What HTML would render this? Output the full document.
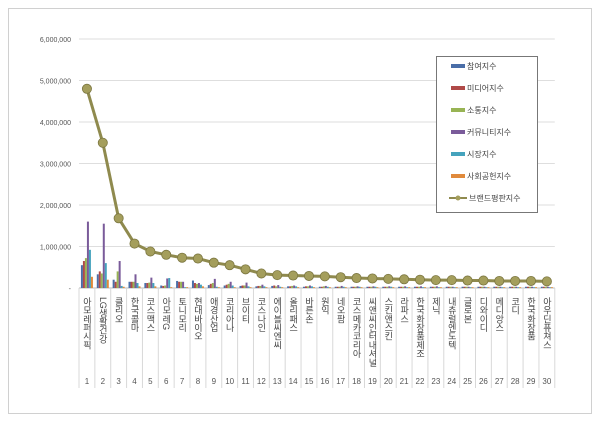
<!DOCTYPE html>
<html><head><meta charset="utf-8"><style>
body{margin:0;background:#fff;}
svg{display:block;font-family:"Liberation Sans","Noto Sans CJK KR",sans-serif;}
</style></head><body>
<svg id="chart" width="600" height="422" viewBox="0 0 600 422">
<rect x="8.5" y="8.5" width="583" height="405" fill="#fff" stroke="#d0d0d0"/>
<g id="grid"></g><g id="cats"></g><g id="bars"></g><g id="line"></g>
<g id="legend"></g>
</svg>
<script>
const categories=["아모레퍼시픽","LG생활건강","클리오","한국콜마","코스맥스","아모레G","토니모리","현대바이오","애경산업","코리아나","브이티","코스나인","에이블씨엔씨","올리패스","바른손","원익","네오팜","코스메카코리아","씨앤씨인터내셔널","스킨앤스킨","라파스","한국화장품제조","제닉","내츄럴엔도텍","글로본","디와이디","메디앙스","코디","한국화장품","아우딘퓨쳐스"];
const participation=[550000,330000,200000,150000,120000,60000,170000,180000,70000,60000,50000,40000,50000,40000,30000,30000,30000,30000,30000,30000,30000,30000,30000,30000,30000,30000,30000,30000,30000,30000];
const media=[650000,400000,150000,150000,120000,50000,150000,120000,100000,80000,60000,50000,60000,40000,40000,30000,30000,30000,30000,30000,30000,30000,30000,30000,30000,30000,30000,30000,30000,30000];
const communication=[720000,350000,400000,150000,130000,60000,150000,100000,120000,100000,60000,50000,40000,50000,40000,40000,30000,30000,30000,30000,30000,30000,30000,30000,30000,30000,30000,30000,30000,30000];
const community=[1600000,1550000,650000,330000,250000,230000,150000,120000,220000,150000,130000,80000,70000,60000,60000,50000,50000,40000,40000,40000,40000,40000,40000,30000,30000,30000,30000,30000,30000,30000];
const market=[920000,600000,50000,120000,120000,240000,20000,80000,30000,60000,40000,40000,30000,40000,40000,30000,30000,30000,30000,30000,20000,20000,20000,20000,20000,20000,20000,20000,20000,20000];
const social=[270000,200000,30000,40000,40000,20000,20000,40000,20000,20000,20000,20000,20000,20000,20000,20000,20000,20000,20000,20000,20000,20000,20000,20000,20000,20000,20000,20000,20000,20000];
const brand=[4800000,3500000,1680000,1070000,880000,800000,730000,710000,610000,550000,450000,350000,310000,300000,290000,280000,260000,240000,230000,220000,210000,200000,190000,190000,180000,180000,170000,170000,170000,160000];
const yTicks=[0,1000000,2000000,3000000,4000000,5000000,6000000];
const seriesNames=["참여지수","미디어지수","소통지수","커뮤니티지수","시장지수","사회공헌지수"];
const seriesColors=["#4a6ea8","#b04a48","#98b454","#7a5b9a","#45a3bd","#e08a3c"];
const seriesData=[participation,media,communication,community,market,social];

const NS="http://www.w3.org/2000/svg";
const X0=79,STEP=15.86,Y0=288,YMAX=6000000,YTOP=39;
const xC=i=>X0+STEP*(i+0.5);
const y=v=>Y0-(v/YMAX)*(Y0-YTOP);
function mk(tag,attrs,parent){const e=document.createElementNS(NS,tag);for(const k in attrs)e.setAttribute(k,attrs[k]);parent.appendChild(e);return e;}
const grid=document.getElementById('grid');
yTicks.forEach(t=>{
  const l=mk('line',{x1:X0,x2:X0+STEP*30,y1:y(t),y2:y(t),stroke:t===0?'#bbb':'#dedede','stroke-width':1},grid);
  
  
  const tx=mk('text',{x:71,y:y(t)+3,'text-anchor':'end','font-size':7,fill:'#555'},grid);
  tx.textContent=t===0?'-':t.toLocaleString('en-US');
  
  
});
const cats=document.getElementById('cats');
for(let i=0;i<=30;i++){
  const l=mk('line',{x1:X0+STEP*i,x2:X0+STEP*i,y1:Y0,y2:388,stroke:'#d8d8d8','stroke-width':1},cats);
  
  
}
categories.forEach((c,i)=>{
  const t=mk('text',{x:xC(i),y:297,'font-size':9,fill:'#444',style:'writing-mode:vertical-rl;text-orientation:mixed;letter-spacing:-0.3px'},cats);
  t.textContent=c;
  
  
  const n=mk('text',{x:xC(i),y:384,'text-anchor':'middle','font-size':8,fill:'#555'},cats);
  n.textContent=String(i+1);
  
  
});
const bars=document.getElementById('bars');
const BW=2;
seriesData.forEach((arr,s)=>{
  arr.forEach((v,i)=>{
    const bx=xC(i)-6+s*BW;
    const r=mk('rect',{x:bx,y:y(v),width:BW,height:Y0-y(v),fill:seriesColors[s]},bars);
    
    
  });
});
const lg=document.getElementById('line');
const pts=brand.map((v,i)=>xC(i)+','+y(v)).join(' ');
const pl=mk('polyline',{points:pts,fill:'none',stroke:'#8f8a4e','stroke-width':3},lg);


brand.forEach((v,i)=>{
  const c=mk('circle',{cx:xC(i),cy:y(v),r:4.6,fill:'#a49e5c',stroke:'#7b7640','stroke-width':0.8},lg);
  
  
});
const leg=document.getElementById('legend');
mk('rect',{x:436.5,y:56.5,width:101,height:156,fill:'#fff',stroke:'#777'},leg);
seriesNames.forEach((nm,s)=>{
  const yy=66+s*22;
  const r=mk('rect',{x:451,y:yy-2,width:14,height:4,fill:seriesColors[s]},leg);
  
  
  const t=mk('text',{x:467,y:yy+3,'font-size':8,fill:'#444'},leg);
  t.textContent=nm;
  
  
});
{
  const yy=66+6*22;
  mk('line',{x1:449,x2:467,y1:yy,y2:yy,stroke:'#8f8a4e','stroke-width':2},leg);
  mk('circle',{cx:458,cy:yy,r:2.5,fill:'#a49e5c'},leg);
  const t=mk('text',{x:469,y:yy+3,'font-size':8,fill:'#444'},leg);
  t.textContent='브랜드평판지수';
  
  
}
</script>
</body></html>
